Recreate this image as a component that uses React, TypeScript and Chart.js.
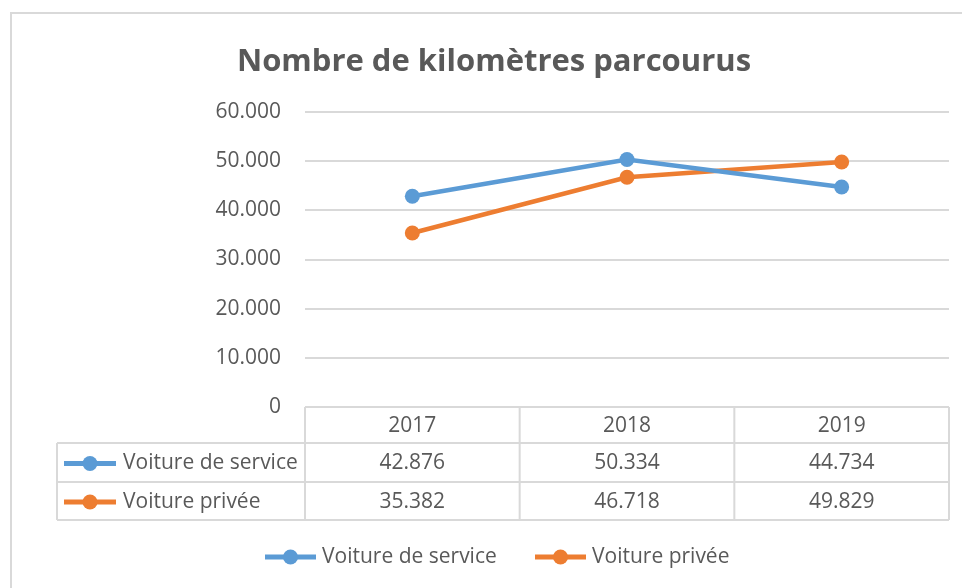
import React, { useEffect, useRef } from "react";
import { Chart, registerables } from "chart.js";

Chart.register(...registerables);

const chartTitle = "Nombre de kilomètres parcourus";
const years = ["2017", "2018", "2019"];
const seriesNames = ["Voiture de service", "Voiture privée"];
const serviceKm = [42876, 50334, 44734];
const priveeKm = [35382, 46718, 49829];
const seriesColors = ["#5B9BD5", "#ED7D31"];
const yMin = 0;
const yMax = 60000;
const yStep = 10000;

const TEXT = "#595959";
const GRID = "#D9D9D9";
const FONT = "'Open Sans', 'Liberation Sans', sans-serif";
const FS = 21;

function fmt(v: number): string {
  const s = Math.round(v).toString();
  return s.replace(/\B(?=(\d{3})+(?!\d))/g, ".");
}

function drawKey(ctx: CanvasRenderingContext2D, x0: number, x1: number, y: number, color: string) {
  ctx.save();
  ctx.strokeStyle = color;
  ctx.lineWidth = 5;
  ctx.lineCap = "butt";
  ctx.beginPath();
  ctx.moveTo(x0, y);
  ctx.lineTo(x1, y);
  ctx.stroke();
  ctx.fillStyle = color;
  ctx.beginPath();
  ctx.arc((x0 + x1) / 2, y, 7.5, 0, Math.PI * 2);
  ctx.fill();
  ctx.restore();
}

const decorPlugin = {
  id: "decor",
  afterDraw(chart: any) {
    const ctx: CanvasRenderingContext2D = chart.ctx;
    const area = chart.chartArea;
    const xs = chart.scales.x;
    const datasets = chart.data.datasets;
    ctx.save();

    // outer frame
    ctx.strokeStyle = GRID;
    ctx.lineWidth = 2;
    ctx.beginPath();
    ctx.moveTo(11, 588);
    ctx.lineTo(11, 13);
    ctx.lineTo(962, 13);
    ctx.stroke();

    // title
    ctx.fillStyle = TEXT;
    ctx.font = `bold 31px ${FONT}`;
    ctx.textAlign = "center";
    ctx.textBaseline = "alphabetic";
    ctx.fillText(chartTitle, 494, 71);

    // data table
    const n = years.length;
    const colW = (area.right - area.left) / n;
    const tableLeft = 57;
    const rowTop = area.bottom;
    const rows = [rowTop, rowTop + 36, rowTop + 75, rowTop + 113];
    ctx.strokeStyle = GRID;
    ctx.lineWidth = 2;
    ctx.beginPath();
    ctx.moveTo(area.left, rows[0]);
    ctx.lineTo(area.right, rows[0]);
    for (let r = 1; r < rows.length; r++) {
      ctx.moveTo(tableLeft, rows[r]);
      ctx.lineTo(area.right, rows[r]);
    }
    ctx.moveTo(tableLeft, rows[1]);
    ctx.lineTo(tableLeft, rows[3]);
    for (let i = 0; i <= n; i++) {
      const x = area.left + i * colW;
      ctx.moveTo(x, rows[0]);
      ctx.lineTo(x, rows[3]);
    }
    ctx.stroke();

    ctx.fillStyle = TEXT;
    ctx.font = `${FS}px ${FONT}`;
    ctx.textBaseline = "middle";
    ctx.textAlign = "center";
    years.forEach((yr, i) => {
      const cx = xs.getPixelForValue(i);
      ctx.fillText(yr, cx, (rows[0] + rows[1]) / 2 + 1);
    });
    datasets.forEach((ds: any, d: number) => {
      const cy = (rows[d + 1] + rows[d + 2]) / 2 + 1;
      ds.data.forEach((v: number, i: number) => {
        ctx.textAlign = "center";
        ctx.fillText(fmt(v), xs.getPixelForValue(i), cy);
      });
      drawKey(ctx, 64, 116, cy, ds.borderColor);
      ctx.fillStyle = TEXT;
      ctx.textAlign = "left";
      ctx.fillText(ds.label, 123, cy);
    });

    // legend
    const ly = 557;
    const legendX = [265, 535];
    datasets.forEach((ds: any, d: number) => {
      const x0 = legendX[d];
      drawKey(ctx, x0, x0 + 51, ly, ds.borderColor);
      ctx.fillStyle = TEXT;
      ctx.textAlign = "left";
      ctx.fillText(ds.label, x0 + 57, ly);
    });

    ctx.restore();
  },
};

export default function App() {
  const ref = useRef<HTMLCanvasElement | null>(null);

  useEffect(() => {
    if (!ref.current) return;
    const chart = new Chart(ref.current, {
      type: "line",
      data: {
        labels: years,
        datasets: [serviceKm, priveeKm].map((vals, i) => ({
          label: seriesNames[i],
          data: vals,
          borderColor: seriesColors[i],
          backgroundColor: seriesColors[i],
          pointBackgroundColor: seriesColors[i],
          pointBorderColor: seriesColors[i],
          borderWidth: 4.5,
          pointRadius: 7.5,
          pointBorderWidth: 0,
          tension: 0,
          fill: false,
        })),
      },
      options: {
        responsive: false,
        animation: false,
        devicePixelRatio: 1,
        layout: { padding: { left: 0, top: 112, right: 13, bottom: 181 } },
        plugins: {
          legend: { display: false },
          title: { display: false },
          tooltip: { enabled: false },
        },
        scales: {
          x: {
            type: "category",
            display: false,
            offset: true,
          },
          y: {
            min: yMin,
            max: yMax,
            afterFit(scale: any) {
              scale.width = 305;
            },
            ticks: {
              stepSize: yStep,
              padding: 24,
              color: TEXT,
              font: { family: FONT, size: FS },
              callback: (v: any) => fmt(Number(v)),
            },
            grid: { color: GRID, lineWidth: 2, drawTicks: false },
            border: { display: false },
          },
        },
      },
      plugins: [decorPlugin],
    } as any);
    return () => chart.destroy();
  }, []);

  return (
    <div style={{ position: "fixed", left: 0, top: 0, width: 962, height: 588, background: "#fff" }}>
      <canvas ref={ref} width={962} height={588} style={{ display: "block", width: 962, height: 588 }} />
    </div>
  );
}
